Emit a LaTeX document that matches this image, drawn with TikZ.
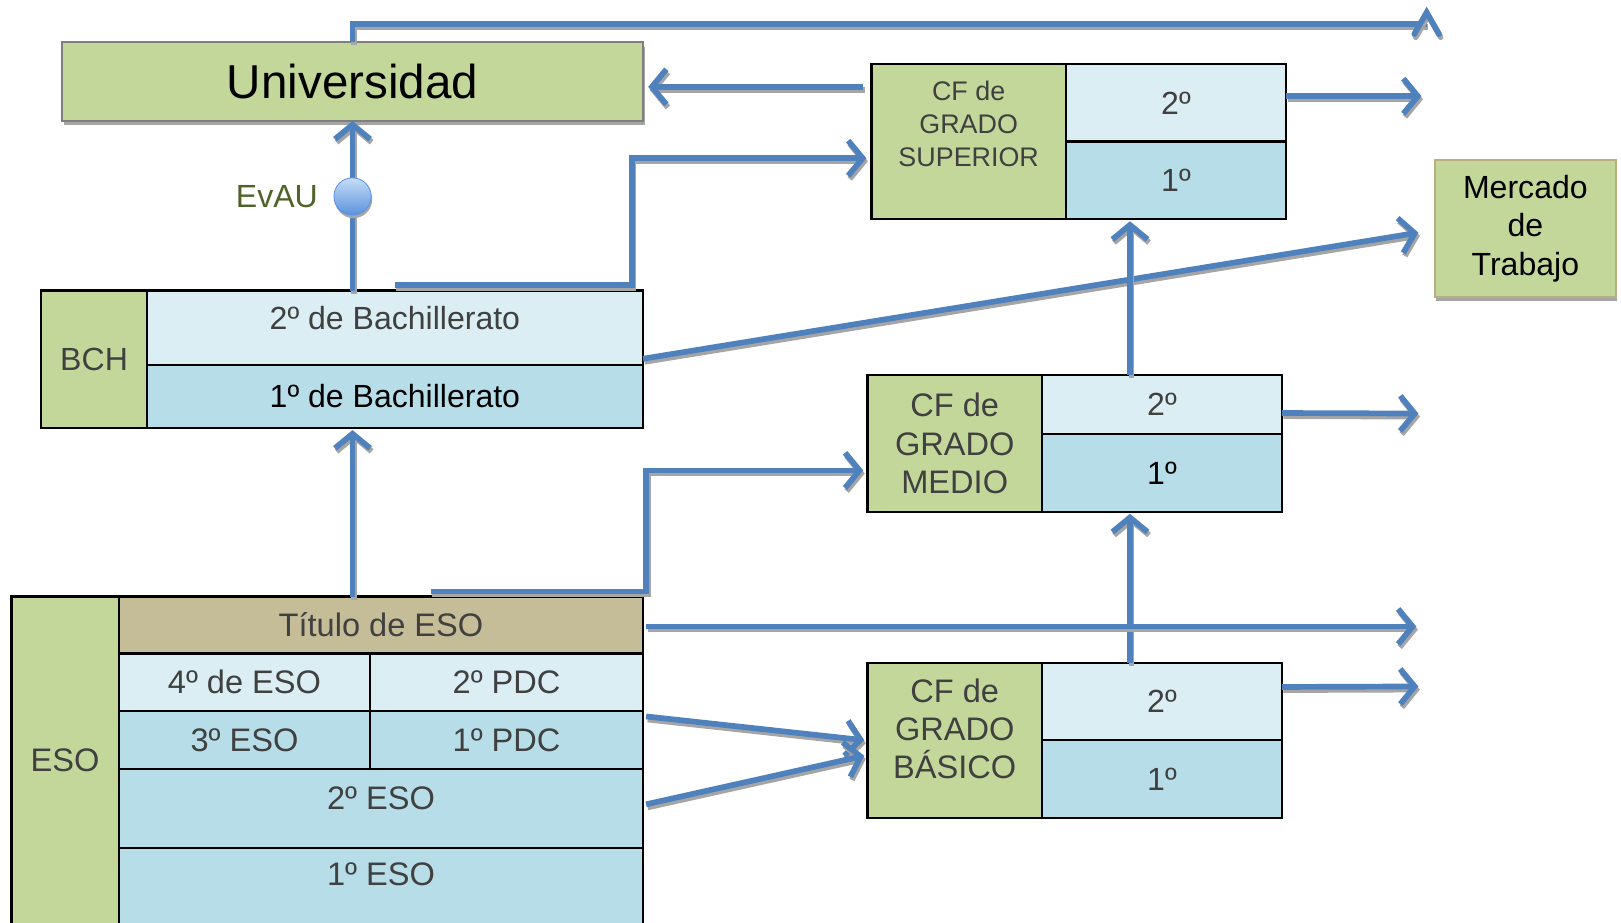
\documentclass[tikz,border=0pt]{standalone}
\usepackage{fontspec}
\setmainfont{Liberation Sans}
\usetikzlibrary{arrows.meta,shadows}
\definecolor{fgreen}{HTML}{C4D79B}
\definecolor{lblue}{HTML}{DBEEF3}
\definecolor{mblue}{HTML}{B7DEE8}
\definecolor{tanc}{HTML}{C4BD97}
\definecolor{flowc}{HTML}{4F81BD}
\definecolor{shad}{HTML}{A5A5A5}
\definecolor{txt}{HTML}{404040}
\definecolor{olivetxt}{HTML}{4F6228}
\definecolor{unib}{HTML}{7F7F7F}
\definecolor{mercb}{HTML}{B9AD82}
\definecolor{balltop}{HTML}{C6DCF7}
\definecolor{ballbot}{HTML}{5B92DE}
\tikzset{
  cellb/.style={draw=black, line width=2.2pt, anchor=north west, inner sep=0pt, outer sep=0pt, align=center, text=txt},
  fa/.style={font=\fontsize{31.5}{37}\selectfont},
  fb/.style={font=\fontsize{31}{37}\selectfont},
  fc/.style={font=\fontsize{26}{32}\selectfont},
  lab/.style={text=txt, align=center},
  flow/.style={draw=flowc, line width=5.5pt, -{Straight Barb[length=14pt,width=34pt]}},
  flowplain/.style={draw=flowc, line width=5.5pt},
  shadowed/.style={draw=shad, transform canvas={shift={(1.5pt,-3pt)}}},
  bshadow/.style={drop shadow={shadow xshift=1.5pt, shadow yshift=-4pt, fill=shad, opacity=1}}
}
\newcommand\flw[2][flow]{\draw[#1, shadowed] #2; \draw[#1] #2;}
\begin{document}
\begin{tikzpicture}[x=1pt,y=-1pt]
\useasboundingbox (0,0) rectangle (1568,892);
\clip (0,0) rectangle (1568,892);

% Universidad
\node[cellb, draw=unib, line width=2pt, fill=fgreen, bshadow, minimum width=562pt, minimum height=76pt,
  text=black, font=\fontsize{46}{50}\selectfont] (uni) at (60,41) {Universidad};

% CF grado superior
\node[cellb, fill=fgreen, minimum width=188pt, minimum height=150pt,
  label={[lab, fc, yshift=17pt]center:{CF de\\GRADO\\SUPERIOR}}] (cfs) at (843,62) {};
\node[cellb, fill=lblue, minimum width=213pt, minimum height=75pt, fb] (cfsU) at (1031,62) {2º};
\node[cellb, fill=mblue, minimum width=213pt, minimum height=75pt, fb] (cfsD) at (1031,137) {1º};

% Mercado de trabajo
\node[cellb, draw=mercb, line width=2pt, fill=fgreen, bshadow, minimum width=175pt, minimum height=132pt,
  text=black, fb] (merc) at (1388,155) {Mercado\\de\\Trabajo};

% Bachillerato
\node[cellb, fill=fgreen, minimum width=102pt, minimum height=133pt, fb] (bch) at (40,281) {BCH};
\node[cellb, fill=lblue, minimum width=480pt, minimum height=72pt,
  label={[lab, fb, yshift=9pt]center:{2º de Bachillerato}}] (bchU) at (142,281) {};
\node[cellb, fill=mblue, minimum width=480pt, minimum height=61pt, fb, text=black] (bchD) at (142,353) {1º de Bachillerato};

% CF grado medio
\node[cellb, fill=fgreen, minimum width=169pt, minimum height=132pt, fa] (cfm) at (839,363) {CF de\\GRADO\\MEDIO};
\node[cellb, fill=lblue, minimum width=232pt, minimum height=57pt, fb] (cfmU) at (1008,363) {2º};
\node[cellb, fill=mblue, minimum width=232pt, minimum height=75pt, fb, text=black] (cfmD) at (1008,420) {1º};

% CF grado basico
\node[cellb, fill=fgreen, minimum width=169pt, minimum height=150pt,
  label={[lab, fa, yshift=11pt]center:{CF de\\GRADO\\BÁSICO}}] (cfb) at (839,641) {};
\node[cellb, fill=lblue, minimum width=232pt, minimum height=75pt, fb] (cfbU) at (1008,641) {2º};
\node[cellb, fill=mblue, minimum width=232pt, minimum height=75pt, fb] (cfbD) at (1008,716) {1º};

% ESO
\node[cellb, fill=fgreen, minimum width=104pt, minimum height=320pt,
  label={[lab, fa, yshift=2pt]center:{ESO}}] (eso) at (11,577) {};
\node[cellb, fill=tanc, minimum width=507pt, minimum height=55pt, fa] (tit) at (115,577) {Título de ESO};
\node[cellb, fill=lblue, minimum width=243pt, minimum height=56pt, fa] (eso4) at (115,632) {4º de ESO};
\node[cellb, fill=lblue, minimum width=264pt, minimum height=56pt, fa] (pdc2) at (358,632) {2º PDC};
\node[cellb, fill=mblue, minimum width=243pt, minimum height=56pt, fa] (eso3) at (115,688) {3º ESO};
\node[cellb, fill=mblue, minimum width=264pt, minimum height=56pt, fa] (pdc1) at (358,688) {1º PDC};
\node[cellb, fill=mblue, minimum width=507pt, minimum height=76pt,
  label={[lab, fa, yshift=10pt]center:{2º ESO}}] (eso2) at (115,744) {};
\node[cellb, fill=mblue, minimum width=507pt, minimum height=77pt,
  label={[lab, fa, yshift=12.5pt]center:{1º ESO}}] (eso1) at (115,820) {};

% free ends
\coordinate (otop) at (1380,23);
\coordinate (o1) at (1375,93);
\coordinate (o2) at (1372,400);
\coordinate (o3) at (1372,664);
\coordinate (o4) at (1370,606);

% connectors
\flw[flowplain]{(uni.north) -- (uni.north |- otop) -- (otop)}
\flw[flowplain, line cap=round, line join=miter]{([xshift=-12pt,yshift=-10pt]otop) -- ([yshift=11pt]otop) -- ([xshift=12pt,yshift=-10pt]otop)}

\flw{([xshift=-8pt,yshift=53pt]cfs.west) -- ([xshift=5pt,yshift=-5pt]uni.east)}
\flw{([yshift=6.5pt]cfsU.east) -- (o1)}
\flw{(bchU.north -| uni.south) -- (uni.south)}
\flw{([yshift=5pt]bchU.north) -- ++(229,0) |- ([xshift=-5pt,yshift=-16pt]cfs.west)}
\flw{([yshift=6pt]bchU.south east) -- ([xshift=-16pt,yshift=-4pt]merc.west)}
\flw{([xshift=-44.5pt]cfmU.north -| cfsD.south) -- ([xshift=-44.5pt,yshift=-2pt]cfsD.south)}
\flw{([yshift=-8pt]cfmU.east) -- (o2)}
\flw{([xshift=-31pt]cfbU.north) -- ([xshift=-31pt,yshift=-2pt]cfmD.south)}
\flw{([yshift=14pt]cfbU.east) -- (o3)}
\flw{(tit.north -| uni.south) -- ([yshift=-2pt]bchD.south -| uni.south)}
\flw{([xshift=48pt,yshift=5pt]tit.north) -- ++(208.5,0) |- ([xshift=-4pt,yshift=-26pt]cfm.west)}
\flw{([xshift=3pt,yshift=-1.5pt]tit.east) -- (o4)}
\flw{([xshift=3pt,yshift=-5pt]pdc2.south east) -- ([xshift=-3pt]cfb.west)}
\flw{([xshift=3pt,yshift=4pt]eso2.east) -- ([xshift=-3pt,yshift=-15pt]cfb.west)}

% EvAU
\node[circle, minimum size=36pt, inner sep=0pt, draw=ballbot, line width=0.8pt,
  top color=balltop, bottom color=ballbot,
  drop shadow={shadow xshift=1pt, shadow yshift=-3pt, fill=shad, opacity=1}] (evau) at (341,190) {};
\node[anchor=east, text=olivetxt, fb, inner sep=0pt] (evaut) at ([xshift=-15pt]evau.west) {EvAU};
\end{tikzpicture}
\end{document}
